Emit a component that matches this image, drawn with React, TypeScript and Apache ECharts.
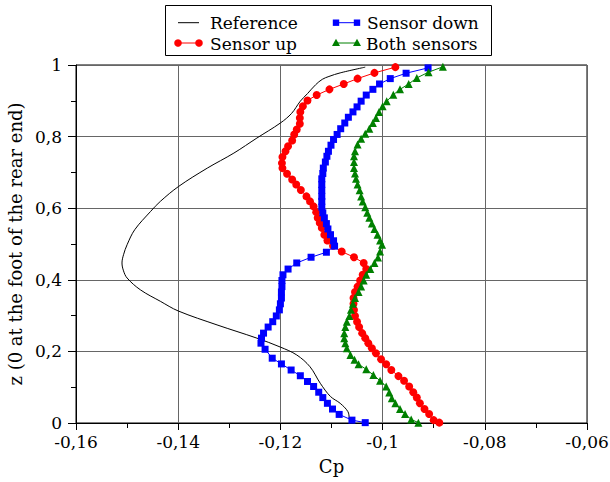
import React, { useEffect, useRef } from "react";
import * as echarts from "echarts";

// Pressure coefficient profiles along the rear end (z normalised, 0 at the foot)
const refZ = [0.994, 0.978, 0.968, 0.96, 0.945, 0.92, 0.899, 0.865, 0.838, 0.796, 0.754, 0.712, 0.661, 0.619, 0.591, 0.54, 0.498, 0.47, 0.447, 0.425, 0.405, 0.372, 0.34, 0.313, 0.274, 0.237, 0.212, 0.19, 0.157, 0.111, 0.074, 0.055, 0.032, 0.013, 0.005];
const refCp = [-0.1034, -0.1083, -0.1105, -0.1118, -0.1131, -0.1147, -0.1161, -0.1178, -0.12, -0.1246, -0.1291, -0.1343, -0.1399, -0.1435, -0.1454, -0.1485, -0.15, -0.1507, -0.151, -0.1507, -0.15, -0.1474, -0.1435, -0.14, -0.1324, -0.1246, -0.12, -0.1168, -0.1142, -0.1122, -0.1102, -0.1083, -0.1068, -0.1065, -0.1064];

const upZ = [0.994, 0.978, 0.962, 0.947, 0.932, 0.916, 0.901, 0.885, 0.869, 0.852, 0.836, 0.82, 0.806, 0.789, 0.773, 0.759, 0.743, 0.726, 0.712, 0.696, 0.68, 0.666, 0.651, 0.633, 0.619, 0.605, 0.589, 0.573, 0.559, 0.545, 0.526, 0.51, 0.495, 0.479, 0.463, 0.447, 0.43, 0.414, 0.398, 0.381, 0.366, 0.349, 0.333, 0.316, 0.299, 0.283, 0.268, 0.251, 0.237, 0.223, 0.209, 0.195, 0.178, 0.164, 0.148, 0.131, 0.118, 0.102, 0.086, 0.071, 0.055, 0.039, 0.025, 0.008, 0.001];
const upCp = [-0.0975, -0.1016, -0.1049, -0.1076, -0.1104, -0.1129, -0.1147, -0.1156, -0.1161, -0.1162, -0.1162, -0.1168, -0.1173, -0.1177, -0.1185, -0.119, -0.1196, -0.1197, -0.1196, -0.1187, -0.1177, -0.1169, -0.116, -0.1149, -0.1142, -0.1135, -0.113, -0.1127, -0.1123, -0.1119, -0.1114, -0.1108, -0.1097, -0.108, -0.1056, -0.1037, -0.1032, -0.1039, -0.1044, -0.1049, -0.1054, -0.1057, -0.1057, -0.1056, -0.1054, -0.105, -0.1046, -0.104, -0.1034, -0.1028, -0.1021, -0.1013, -0.1003, -0.0993, -0.0983, -0.0969, -0.0958, -0.0948, -0.094, -0.0933, -0.0927, -0.0918, -0.0909, -0.09, -0.0889];

const downZ = [0.992, 0.977, 0.962, 0.947, 0.932, 0.916, 0.899, 0.883, 0.869, 0.854, 0.838, 0.822, 0.806, 0.792, 0.776, 0.759, 0.745, 0.729, 0.712, 0.697, 0.682, 0.666, 0.65, 0.633, 0.619, 0.603, 0.587, 0.573, 0.557, 0.542, 0.526, 0.509, 0.494, 0.477, 0.463, 0.447, 0.43, 0.414, 0.398, 0.381, 0.366, 0.349, 0.333, 0.316, 0.299, 0.283, 0.268, 0.251, 0.237, 0.223, 0.206, 0.181, 0.165, 0.148, 0.132, 0.116, 0.102, 0.086, 0.071, 0.055, 0.039, 0.024, 0.008, 0.001];
const downCp = [-0.0911, -0.0954, -0.0985, -0.1006, -0.1019, -0.1032, -0.1042, -0.105, -0.1058, -0.1067, -0.1074, -0.1082, -0.1089, -0.1096, -0.1101, -0.1106, -0.1109, -0.1112, -0.1116, -0.1117, -0.1119, -0.1119, -0.1119, -0.1119, -0.1119, -0.1119, -0.1117, -0.1114, -0.111, -0.1107, -0.1102, -0.1096, -0.1094, -0.111, -0.114, -0.1168, -0.1185, -0.1195, -0.1197, -0.1197, -0.1198, -0.1198, -0.12, -0.1202, -0.1208, -0.1215, -0.1224, -0.1233, -0.1237, -0.1238, -0.123, -0.1216, -0.1198, -0.1179, -0.1161, -0.1147, -0.1135, -0.1125, -0.1117, -0.1108, -0.1098, -0.1085, -0.106, -0.1034];

const bothZ = [0.995, 0.98, 0.964, 0.947, 0.932, 0.917, 0.899, 0.885, 0.869, 0.852, 0.838, 0.822, 0.808, 0.794, 0.778, 0.759, 0.745, 0.729, 0.712, 0.697, 0.682, 0.666, 0.65, 0.633, 0.619, 0.603, 0.587, 0.573, 0.557, 0.542, 0.526, 0.51, 0.498, 0.479, 0.462, 0.447, 0.43, 0.414, 0.398, 0.381, 0.366, 0.349, 0.333, 0.316, 0.299, 0.283, 0.268, 0.251, 0.237, 0.223, 0.209, 0.19, 0.177, 0.164, 0.15, 0.134, 0.118, 0.102, 0.085, 0.069, 0.055, 0.039, 0.025, 0.01, 0.001];
const bothCp = [-0.0882, -0.091, -0.0933, -0.0949, -0.0966, -0.0979, -0.0992, -0.1, -0.1007, -0.1013, -0.1019, -0.1026, -0.1034, -0.1042, -0.1049, -0.1054, -0.1056, -0.1056, -0.1056, -0.1054, -0.1052, -0.1049, -0.1045, -0.1042, -0.1039, -0.1034, -0.103, -0.1026, -0.1021, -0.1016, -0.101, -0.1005, -0.1001, -0.1005, -0.1009, -0.1016, -0.1024, -0.1032, -0.1037, -0.1042, -0.1047, -0.1054, -0.1058, -0.1062, -0.1065, -0.107, -0.1073, -0.1075, -0.1075, -0.1073, -0.107, -0.1063, -0.1055, -0.1047, -0.1032, -0.1018, -0.1005, -0.0993, -0.0987, -0.0982, -0.0975, -0.0966, -0.0956, -0.0944, -0.093];

const seriesNames = ["Reference", "Sensor up", "Sensor down", "Both sensors"];
const xTitle = "Cp";
const yTitle = "z (0 at the foot of the rear end)";

const FONT = "DejaVu Serif";

const zip = (xs: number[], ys: number[]) => xs.map((x, i) => [x, ys[i]]);
const fmt = (v: number) => String(Number(v.toFixed(2))).replace(".", ",");

export default function App() {
  const ref = useRef<HTMLDivElement>(null);

  useEffect(() => {
    if (!ref.current) return;
    const chart = echarts.init(ref.current, null, { renderer: "svg" });

    const legendRows = [
      { name: seriesNames[0], x: 178, tx: 210, y: 22.7, color: "#000", sym: "none" },
      { name: seriesNames[1], x: 178, tx: 210, y: 43, color: "#ff0000", sym: "circle" },
      { name: seriesNames[2], x: 336, tx: 367, y: 22.7, color: "#0000ff", sym: "rect" },
      { name: seriesNames[3], x: 336, tx: 366, y: 43, color: "#008000", sym: "triangle" },
    ];

    const legendGraphics: any[] = [
      {
        type: "rect",
        shape: { x: 165.5, y: 5.5, width: 326, height: 50 },
        style: { fill: "#fff", stroke: "#000", lineWidth: 1 },
        z: 10,
      },
    ];
    legendRows.forEach((r) => {
      const x1 = r.x;
      const x2 = r.x + 21;
      legendGraphics.push({
        type: "line",
        shape: { x1, y1: r.y, x2, y2: r.y },
        style: { stroke: r.color, lineWidth: 1 },
        z: 11,
      });
      [x1, x2].forEach((cx) => {
        if (r.sym === "circle") {
          legendGraphics.push({ type: "circle", shape: { cx, cy: r.y, r: 3.8 }, style: { fill: r.color }, z: 12 });
        } else if (r.sym === "rect") {
          legendGraphics.push({ type: "rect", shape: { x: cx - 3.2, y: r.y - 3.2, width: 6.4, height: 6.4 }, style: { fill: r.color }, z: 12 });
        } else if (r.sym === "triangle") {
          legendGraphics.push({
            type: "polygon",
            shape: { points: [[cx, r.y - 4.2], [cx - 4, r.y + 3], [cx + 4, r.y + 3]] },
            style: { fill: r.color },
            z: 12,
          });
        }
      });
      legendGraphics.push({
        type: "text",
        x: r.tx,
        y: r.y + 0.5,
        style: { text: r.name, font: `17px ${FONT}`, fill: "#000", verticalAlign: "middle" },
        z: 12,
      });
    });

    const axisCommon = {
      axisLine: { show: true, lineStyle: { color: "#000", width: 1 } },
      axisTick: { show: true, inside: false, lineStyle: { color: "#000" } },
      minorTick: { show: true, splitNumber: 2, lineStyle: { color: "#000" } },
      splitLine: { show: true, lineStyle: { color: "#666", width: 1 } },
      axisLabel: { color: "#000", fontFamily: FONT, fontSize: 17, formatter: (v: number) => fmt(v) },
      nameTextStyle: { color: "#000", fontFamily: FONT, fontSize: 18 },
    };

    chart.setOption({
      animation: false,
      backgroundColor: "#fff",
      grid: {
        left: 76,
        right: 23,
        top: 65,
        bottom: 59,
        containLabel: false,
        outerBoundsMode: "none",
        show: true,
        borderColor: "#000",
        borderWidth: 1,
        backgroundColor: "transparent",
      },
      xAxis: {
        type: "value",
        min: -0.16,
        max: -0.06,
        interval: 0.02,
        ...axisCommon,
        axisTick: { ...axisCommon.axisTick, length: 7 },
        minorTick: { ...axisCommon.minorTick, length: 5 },
        axisLabel: { ...axisCommon.axisLabel, margin: 10 },
        name: xTitle,
        nameLocation: "middle",
        nameGap: 34,
      },
      yAxis: {
        type: "value",
        min: 0,
        max: 1,
        interval: 0.2,
        ...axisCommon,
        axisTick: { ...axisCommon.axisTick, length: 8 },
        minorTick: { ...axisCommon.minorTick, length: 5 },
        axisLabel: { ...axisCommon.axisLabel, margin: 14 },
        name: yTitle,
        nameLocation: "middle",
        nameRotate: 90,
        nameGap: 49,
      },
      graphic: legendGraphics,
      series: [
        {
          name: seriesNames[0],
          type: "line",
          data: zip(refCp, refZ),
          showSymbol: false,
          symbol: "none",
          smooth: 0.35,
          lineStyle: { color: "#000", width: 1 },
          z: 2,
        },
        {
          name: seriesNames[1],
          type: "line",
          data: zip(upCp, upZ),
          symbol: "circle",
          symbolSize: 8,
          itemStyle: { color: "#ff0000" },
          lineStyle: { color: "#ff0000", width: 1 },
          z: 3,
        },
        {
          name: seriesNames[2],
          type: "line",
          data: zip(downCp, downZ),
          symbol: "rect",
          symbolSize: 7,
          itemStyle: { color: "#0000ff" },
          lineStyle: { color: "#0000ff", width: 1 },
          z: 4,
        },
        {
          name: seriesNames[3],
          type: "line",
          data: zip(bothCp, bothZ),
          symbol: "triangle",
          symbolSize: 8,
          itemStyle: { color: "#008000" },
          lineStyle: { color: "#008000", width: 1 },
          z: 5,
        },
      ],
    });

    return () => chart.dispose();
  }, []);

  return <div ref={ref} style={{ width: 610, height: 482, position: "absolute", left: 0, top: 0 }} />;
}
